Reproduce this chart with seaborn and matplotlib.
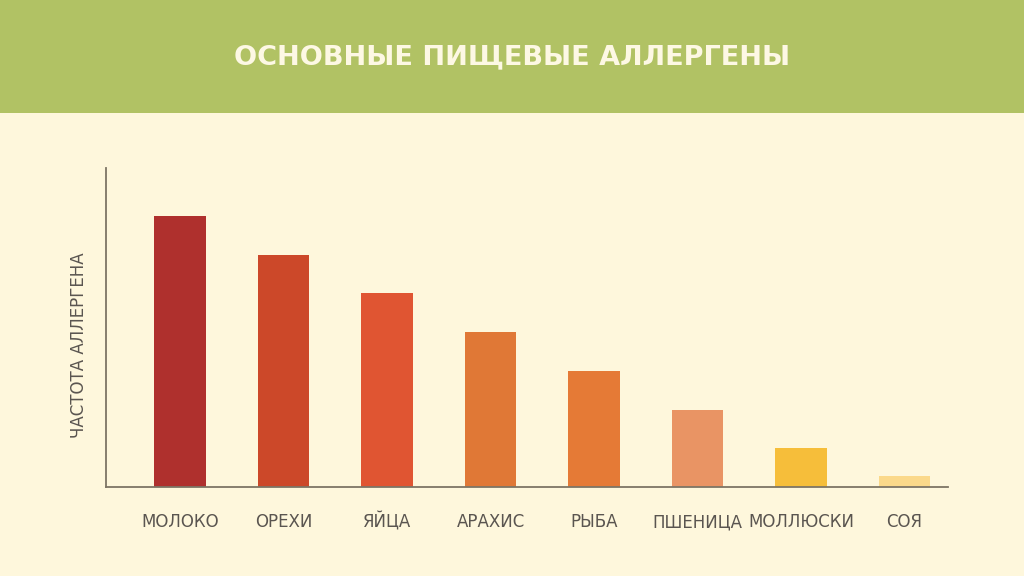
import matplotlib
matplotlib.use("Agg")
import matplotlib.pyplot as plt
import seaborn as sns
import pandas as pd
from matplotlib.patches import Rectangle

categories = ["МОЛОКО", "ОРЕХИ", "ЯЙЦА", "АРАХИС", "РЫБА", "ПШЕНИЦА", "МОЛЛЮСКИ", "СОЯ"]
values = [7.0, 6.0, 5.0, 4.0, 3.0, 2.0, 1.0, 0.28]
colors = ["#AF302D", "#CC4829", "#E05532", "#E07836", "#E57A36", "#E99464", "#F6BE3A", "#FBD98A"]

title = "ОСНОВНЫЕ ПИЩЕВЫЕ АЛЛЕРГЕНЫ"
ylabel = "ЧАСТОТА АЛЛЕРГЕНА"

sns.set_theme(style="white")
plt.rcParams['font.family'] = ['DejaVu Sans']

bg = "#FEF7DC"
green = "#B1C264"
fig = plt.figure(figsize=(10.24, 5.76), dpi=100, facecolor=bg)
fig.patches.append(Rectangle((0, 1 - 113 / 576), 1, 113 / 576, transform=fig.transFigure,
                             facecolor=green, edgecolor="none", zorder=0))
fig.text(0.5, 1 - 57 / 576, title, ha="center", va="center", color="#FDF8E4",
         fontsize=19.5, fontweight="bold")

ax = fig.add_axes([106 / 1024, 1 - 487 / 576, (948 - 106) / 1024, (487 - 168) / 576])
ax.set_facecolor(bg)
df = pd.DataFrame({"cat": categories, "val": values})
sns.barplot(data=df, x="cat", y="val", hue="cat", palette=colors, legend=False,
            width=0.5, saturation=1, linewidth=0, ax=ax)
ax.set_xlim(-0.715, 7.42)
ax.set_ylim(0, 8.24)
ax.set_yticks([])
ax.set_xlabel("")
ax.set_ylabel(ylabel, fontsize=12, color="#5A5550")
ax.yaxis.set_label_coords(-0.0215, 0.445)
ax.tick_params(axis="x", length=0, pad=25.5, labelsize=12, labelcolor="#5A5550")
for lbl in ax.get_xticklabels():
    lbl.set_verticalalignment("center")
for s in ["top", "right"]:
    ax.spines[s].set_visible(False)
for s in ["left", "bottom"]:
    ax.spines[s].set_color("#7D7565")
    ax.spines[s].set_linewidth(1.3)

fig.savefig("out.png", dpi=100, facecolor=bg)
